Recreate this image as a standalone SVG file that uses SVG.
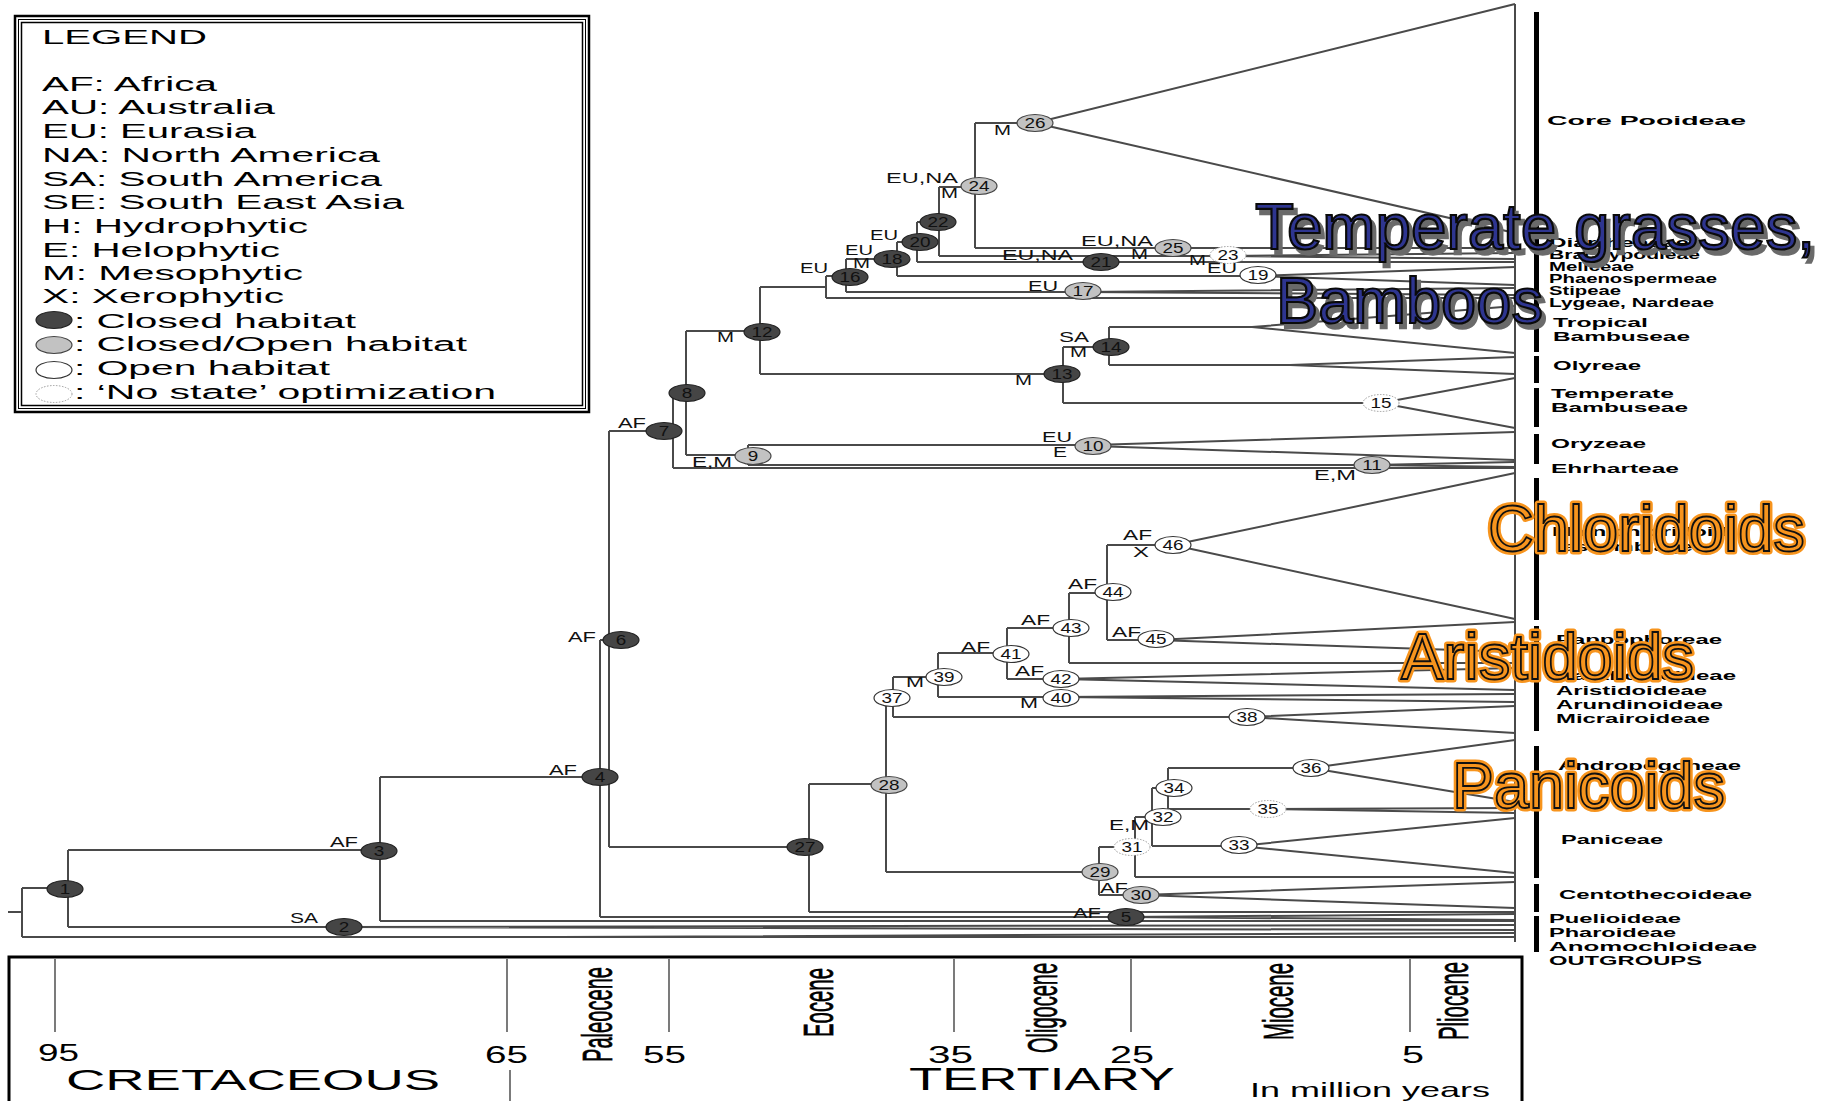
<svg xmlns="http://www.w3.org/2000/svg" width="1830" height="1101" viewBox="0 0 1830 1101">
<defs>
<style>
text{font-family:"Liberation Sans",Arial,sans-serif;}
.br{fill:none;stroke:#4a4a4a;stroke-width:2;}
.d{fill:#454545;stroke:#222;stroke-width:1.2;}
.g{fill:#c2c2c2;stroke:#444;stroke-width:1.2;}
.w{fill:#fff;stroke:#333;stroke-width:1.2;}
.n{fill:#fff;stroke:#999;stroke-width:1;stroke-dasharray:1.5 1.5;}
.num{font-size:14px;text-anchor:middle;fill:#111;}
.st{font-size:14px;fill:#111;}
.tx{font-size:12px;font-weight:bold;fill:#000;}
.lg{font-size:20px;fill:#000;}
.bar{fill:#000;}
.ax{font-size:24px;fill:#000;}
.tick{stroke:#333;stroke-width:1.3;}
.ep{font-size:24px;fill:#000;stroke:#000;stroke-width:0.4;}
.bigN{font-size:64px;fill:#2e3590;stroke:#0a0a0a;stroke-width:2.2;}
.bigS{font-size:64px;fill:#6a6a6a;stroke:#6a6a6a;stroke-width:2.5;}
.bigO1{font-size:64px;fill:#f7941d;stroke:#f7941d;stroke-width:7;stroke-linejoin:round;}
.bigO2{font-size:64px;fill:#f7941d;stroke:#111;stroke-width:1.8;}
</style>
</defs>
<rect width="1830" height="1101" fill="#fff"/>

<g id="legend">
<rect x="15" y="16" width="574" height="396" fill="none" stroke="#000" stroke-width="2.5"/>
<rect x="18.5" y="19.5" width="567" height="389" fill="none" stroke="#000" stroke-width="1"/>
<rect x="21.5" y="22.5" width="561" height="383" fill="none" stroke="#000" stroke-width="1.5"/>
<text class="lg" x="42" y="44" textLength="165" lengthAdjust="spacingAndGlyphs">LEGEND</text>
<text class="lg" x="42" y="91" textLength="175" lengthAdjust="spacingAndGlyphs">AF: Africa</text>
<text class="lg" x="42" y="114" textLength="233" lengthAdjust="spacingAndGlyphs">AU: Australia</text>
<text class="lg" x="42" y="138" textLength="214" lengthAdjust="spacingAndGlyphs">EU: Eurasia</text>
<text class="lg" x="42" y="162" textLength="338" lengthAdjust="spacingAndGlyphs">NA: North America</text>
<text class="lg" x="42" y="186" textLength="340" lengthAdjust="spacingAndGlyphs">SA: South America</text>
<text class="lg" x="42" y="209" textLength="362" lengthAdjust="spacingAndGlyphs">SE: South East Asia</text>
<text class="lg" x="42" y="233" textLength="266" lengthAdjust="spacingAndGlyphs">H: Hydrophytic</text>
<text class="lg" x="42" y="257" textLength="238" lengthAdjust="spacingAndGlyphs">E: Helophytic</text>
<text class="lg" x="42" y="280" textLength="261" lengthAdjust="spacingAndGlyphs">M: Mesophytic</text>
<text class="lg" x="42" y="303" textLength="242" lengthAdjust="spacingAndGlyphs">X: Xerophytic</text>
<ellipse class="d" cx="54" cy="320" rx="18" ry="8.5"/>
<text class="lg" x="74" y="328" textLength="282" lengthAdjust="spacingAndGlyphs">: Closed habitat</text>
<ellipse class="g" cx="54" cy="345" rx="18" ry="8.5"/>
<text class="lg" x="74" y="351" textLength="393" lengthAdjust="spacingAndGlyphs">: Closed/Open habitat</text>
<ellipse class="w" cx="54" cy="370" rx="18" ry="8.5"/>
<text class="lg" x="74" y="375" textLength="256" lengthAdjust="spacingAndGlyphs">: Open habitat</text>
<ellipse class="n" cx="54" cy="394" rx="18" ry="8.5"/>
<text class="lg" x="74" y="399" textLength="422" lengthAdjust="spacingAndGlyphs">: ‘No state’ optimization</text>
</g>

<g id="connectors" class="br">
<path d="M8 912H22M22 888V937M22 888H68M22 937H1515M560 937L1515 933"/>
<path d="M68 850V927M68 850H380M68 927H344L1515 925M344 927L1515 930"/>
<path d="M380 777V921M380 777H600M380 921H1515"/>
<path d="M600 640V917M600 640H609M600 917H1126L1515 914M1126 917L1515 920"/>
<path d="M609 431V847M609 431H673M609 847H809"/>
<path d="M673 392V468M673 392H686M673 468H1515"/>
<path d="M686 331V455M686 331H760M686 455H748"/>
<path d="M748 445V465M748 445H1093L1515 432M1093 446L1515 460M748 465H1372L1515 462M1372 465L1515 467"/>
<path d="M760 287V374M760 287H826M760 374H1063"/>
<path d="M826 276V298M826 276H846M826 298H1515"/>
<path d="M846 259V292M846 259H897M846 292H1083L1515 288M1083 292L1515 295"/>
<path d="M897 242V276M897 242H917M897 276H1258L1515 267M1258 276L1515 285"/>
<path d="M917 222V262M917 222H939M917 262H1515"/>
<path d="M939 187V256M939 187H975M939 256H1228L1515 253M1228 256L1515 259"/>
<path d="M975 123V248M975 123H1035L1515 4M1035 123L1515 233M975 248H1515"/>
<path d="M1063 347V403M1063 347H1109M1063 403H1381L1515 378M1381 403L1515 428"/>
<path d="M1109 327V365M1109 327H1252L1515 306M1252 327L1515 353M1109 365H1290L1515 357M1290 365L1515 374"/>
<path d="M809 784V912M809 784H886M809 912H1515"/>
<path d="M886 698V872M886 698H893M886 872H1099"/>
<path d="M893 677V717M893 677H938M893 717H1247L1515 706M1247 717L1515 733"/>
<path d="M938 653V697M938 653H1007M938 697H1061L1515 694M1061 697L1515 702"/>
<path d="M1007 628V679M1007 628H1069M1007 679H1061L1515 668M1061 679L1515 690"/>
<path d="M1069 593V663M1069 593H1107M1069 663H1515"/>
<path d="M1107 545V640M1107 545H1173L1515 473M1173 545L1515 619M1107 640H1156L1515 622M1156 640L1515 652"/>
<path d="M1099 847V895M1099 847H1135M1099 895H1141L1515 882M1141 895L1515 908"/>
<path d="M1135 817V877M1135 817H1152M1135 877H1515"/>
<path d="M1152 788V846M1152 788H1168M1152 846H1239L1515 818M1239 846L1515 873"/>
<path d="M1168 768V809M1168 768H1311L1515 740M1311 768L1515 802M1168 809H1268L1515 808M1268 809L1515 813"/>
<path d="M1515 4V942"/>
</g>

<g id="node-1"><ellipse class="d" cx="65" cy="889" rx="18" ry="8.5"/><text class="num" transform="translate(65 894) scale(1.35 1)">1</text></g>
<g id="node-2"><ellipse class="d" cx="344" cy="927" rx="18" ry="8.5"/><text class="num" transform="translate(344 932) scale(1.35 1)">2</text><text class="st" x="290" y="923" textLength="28" lengthAdjust="spacingAndGlyphs">SA</text></g>
<g id="node-3"><ellipse class="d" cx="379" cy="851" rx="18" ry="8.5"/><text class="num" transform="translate(379 856) scale(1.35 1)">3</text><text class="st" x="330" y="847" textLength="28" lengthAdjust="spacingAndGlyphs">AF</text></g>
<g id="node-4"><ellipse class="d" cx="600" cy="777" rx="18" ry="8.5"/><text class="num" transform="translate(600 782) scale(1.35 1)">4</text><text class="st" x="549" y="775" textLength="28" lengthAdjust="spacingAndGlyphs">AF</text></g>
<g id="node-5"><ellipse class="d" cx="1126" cy="917" rx="18" ry="8.5"/><text class="num" transform="translate(1126 922) scale(1.35 1)">5</text><text class="st" x="1073" y="918" textLength="28" lengthAdjust="spacingAndGlyphs">AF</text></g>
<g id="node-6"><ellipse class="d" cx="621" cy="640" rx="18" ry="8.5"/><text class="num" transform="translate(621 645) scale(1.35 1)">6</text><text class="st" x="568" y="642" textLength="28" lengthAdjust="spacingAndGlyphs">AF</text></g>
<g id="node-7"><ellipse class="d" cx="664" cy="431" rx="18" ry="8.5"/><text class="num" transform="translate(664 436) scale(1.35 1)">7</text><text class="st" x="618" y="428" textLength="28" lengthAdjust="spacingAndGlyphs">AF</text></g>
<g id="node-8"><ellipse class="d" cx="687" cy="393" rx="18" ry="8.5"/><text class="num" transform="translate(687 398) scale(1.35 1)">8</text></g>
<g id="node-9"><ellipse class="g" cx="753" cy="456" rx="18" ry="8.5"/><text class="num" transform="translate(753 461) scale(1.35 1)">9</text><text class="st" x="692" y="467" textLength="40" lengthAdjust="spacingAndGlyphs">E,M</text></g>
<g id="node-10"><ellipse class="g" cx="1093" cy="446" rx="18" ry="8.5"/><text class="num" transform="translate(1093 451) scale(1.35 1)">10</text><text class="st" x="1042" y="442" textLength="30" lengthAdjust="spacingAndGlyphs">EU</text><text class="st" x="1053" y="457" textLength="14" lengthAdjust="spacingAndGlyphs">E</text></g>
<g id="node-11"><ellipse class="g" cx="1372" cy="465" rx="18" ry="8.5"/><text class="num" transform="translate(1372 470) scale(1.35 1)">11</text><text class="st" x="1314" y="480" textLength="42" lengthAdjust="spacingAndGlyphs">E,M</text></g>
<g id="node-12"><ellipse class="d" cx="762" cy="332" rx="18" ry="8.5"/><text class="num" transform="translate(762 337) scale(1.35 1)">12</text><text class="st" x="717" y="342" textLength="17" lengthAdjust="spacingAndGlyphs">M</text></g>
<g id="node-13"><ellipse class="d" cx="1062" cy="374" rx="18" ry="8.5"/><text class="num" transform="translate(1062 379) scale(1.35 1)">13</text><text class="st" x="1015" y="385" textLength="17" lengthAdjust="spacingAndGlyphs">M</text></g>
<g id="node-14"><ellipse class="d" cx="1111" cy="347" rx="18" ry="8.5"/><text class="num" transform="translate(1111 352) scale(1.35 1)">14</text><text class="st" x="1059" y="342" textLength="30" lengthAdjust="spacingAndGlyphs">SA</text><text class="st" x="1070" y="357" textLength="17" lengthAdjust="spacingAndGlyphs">M</text></g>
<g id="node-15"><ellipse class="n" cx="1381" cy="403" rx="18" ry="8.5"/><text class="num" transform="translate(1381 408) scale(1.35 1)">15</text></g>
<g id="node-16"><ellipse class="d" cx="850" cy="277" rx="18" ry="8.5"/><text class="num" transform="translate(850 282) scale(1.35 1)">16</text><text class="st" x="800" y="273" textLength="28" lengthAdjust="spacingAndGlyphs">EU</text></g>
<g id="node-17"><ellipse class="g" cx="1083" cy="291" rx="18" ry="8.5"/><text class="num" transform="translate(1083 296) scale(1.35 1)">17</text><text class="st" x="1028" y="291" textLength="30" lengthAdjust="spacingAndGlyphs">EU</text></g>
<g id="node-18"><ellipse class="d" cx="892" cy="259" rx="18" ry="8.5"/><text class="num" transform="translate(892 264) scale(1.35 1)">18</text><text class="st" x="845" y="255" textLength="28" lengthAdjust="spacingAndGlyphs">EU</text><text class="st" x="853" y="268" textLength="17" lengthAdjust="spacingAndGlyphs">M</text></g>
<g id="node-19"><ellipse class="w" cx="1258" cy="275" rx="18" ry="8.5"/><text class="num" transform="translate(1258 280) scale(1.35 1)">19</text><text class="st" x="1207" y="273" textLength="30" lengthAdjust="spacingAndGlyphs">EU</text></g>
<g id="node-20"><ellipse class="d" cx="920" cy="242" rx="18" ry="8.5"/><text class="num" transform="translate(920 247) scale(1.35 1)">20</text><text class="st" x="870" y="240" textLength="28" lengthAdjust="spacingAndGlyphs">EU</text></g>
<g id="node-21"><ellipse class="d" cx="1101" cy="262" rx="18" ry="8.5"/><text class="num" transform="translate(1101 267) scale(1.35 1)">21</text><text class="st" x="1002" y="260" textLength="71" lengthAdjust="spacingAndGlyphs">EU,NA</text></g>
<g id="node-22"><ellipse class="d" cx="938" cy="222" rx="18" ry="8.5"/><text class="num" transform="translate(938 227) scale(1.35 1)">22</text></g>
<g id="node-23"><ellipse class="n" cx="1228" cy="255" rx="18" ry="8.5"/><text class="num" transform="translate(1228 260) scale(1.35 1)">23</text><text class="st" x="1189" y="265" textLength="17" lengthAdjust="spacingAndGlyphs">M</text></g>
<g id="node-24"><ellipse class="g" cx="979" cy="186" rx="18" ry="8.5"/><text class="num" transform="translate(979 191) scale(1.35 1)">24</text><text class="st" x="886" y="183" textLength="72" lengthAdjust="spacingAndGlyphs">EU,NA</text><text class="st" x="941" y="198" textLength="17" lengthAdjust="spacingAndGlyphs">M</text></g>
<g id="node-25"><ellipse class="g" cx="1173" cy="248" rx="18" ry="8.5"/><text class="num" transform="translate(1173 253) scale(1.35 1)">25</text><text class="st" x="1081" y="246" textLength="72" lengthAdjust="spacingAndGlyphs">EU,NA</text><text class="st" x="1131" y="259" textLength="17" lengthAdjust="spacingAndGlyphs">M</text></g>
<g id="node-26"><ellipse class="g" cx="1035" cy="123" rx="18" ry="8.5"/><text class="num" transform="translate(1035 128) scale(1.35 1)">26</text><text class="st" x="994" y="135" textLength="17" lengthAdjust="spacingAndGlyphs">M</text></g>
<g id="node-27"><ellipse class="d" cx="805" cy="847" rx="18" ry="8.5"/><text class="num" transform="translate(805 852) scale(1.35 1)">27</text></g>
<g id="node-28"><ellipse class="g" cx="889" cy="785" rx="18" ry="8.5"/><text class="num" transform="translate(889 790) scale(1.35 1)">28</text></g>
<g id="node-29"><ellipse class="g" cx="1100" cy="872" rx="18" ry="8.5"/><text class="num" transform="translate(1100 877) scale(1.35 1)">29</text></g>
<g id="node-30"><ellipse class="g" cx="1141" cy="895" rx="18" ry="8.5"/><text class="num" transform="translate(1141 900) scale(1.35 1)">30</text><text class="st" x="1100" y="893" textLength="28" lengthAdjust="spacingAndGlyphs">AF</text></g>
<g id="node-31"><ellipse class="n" cx="1132" cy="847" rx="18" ry="8.5"/><text class="num" transform="translate(1132 852) scale(1.35 1)">31</text></g>
<g id="node-32"><ellipse class="w" cx="1163" cy="817" rx="18" ry="8.5"/><text class="num" transform="translate(1163 822) scale(1.35 1)">32</text><text class="st" x="1109" y="830" textLength="40" lengthAdjust="spacingAndGlyphs">E,M</text></g>
<g id="node-33"><ellipse class="w" cx="1239" cy="845" rx="18" ry="8.5"/><text class="num" transform="translate(1239 850) scale(1.35 1)">33</text></g>
<g id="node-34"><ellipse class="w" cx="1174" cy="788" rx="18" ry="8.5"/><text class="num" transform="translate(1174 793) scale(1.35 1)">34</text></g>
<g id="node-35"><ellipse class="n" cx="1268" cy="809" rx="18" ry="8.5"/><text class="num" transform="translate(1268 814) scale(1.35 1)">35</text></g>
<g id="node-36"><ellipse class="w" cx="1311" cy="768" rx="18" ry="8.5"/><text class="num" transform="translate(1311 773) scale(1.35 1)">36</text></g>
<g id="node-37"><ellipse class="w" cx="892" cy="698" rx="18" ry="8.5"/><text class="num" transform="translate(892 703) scale(1.35 1)">37</text></g>
<g id="node-38"><ellipse class="w" cx="1247" cy="717" rx="18" ry="8.5"/><text class="num" transform="translate(1247 722) scale(1.35 1)">38</text></g>
<g id="node-39"><ellipse class="w" cx="944" cy="677" rx="18" ry="8.5"/><text class="num" transform="translate(944 682) scale(1.35 1)">39</text><text class="st" x="906" y="687" textLength="18" lengthAdjust="spacingAndGlyphs">M</text></g>
<g id="node-40"><ellipse class="w" cx="1061" cy="698" rx="18" ry="8.5"/><text class="num" transform="translate(1061 703) scale(1.35 1)">40</text><text class="st" x="1020" y="708" textLength="18" lengthAdjust="spacingAndGlyphs">M</text></g>
<g id="node-41"><ellipse class="w" cx="1011" cy="654" rx="18" ry="8.5"/><text class="num" transform="translate(1011 659) scale(1.35 1)">41</text><text class="st" x="961" y="652" textLength="29" lengthAdjust="spacingAndGlyphs">AF</text></g>
<g id="node-42"><ellipse class="w" cx="1061" cy="679" rx="18" ry="8.5"/><text class="num" transform="translate(1061 684) scale(1.35 1)">42</text><text class="st" x="1015" y="676" textLength="29" lengthAdjust="spacingAndGlyphs">AF</text></g>
<g id="node-43"><ellipse class="w" cx="1071" cy="628" rx="18" ry="8.5"/><text class="num" transform="translate(1071 633) scale(1.35 1)">43</text><text class="st" x="1021" y="625" textLength="29" lengthAdjust="spacingAndGlyphs">AF</text></g>
<g id="node-44"><ellipse class="w" cx="1113" cy="592" rx="18" ry="8.5"/><text class="num" transform="translate(1113 597) scale(1.35 1)">44</text><text class="st" x="1068" y="589" textLength="29" lengthAdjust="spacingAndGlyphs">AF</text></g>
<g id="node-45"><ellipse class="w" cx="1156" cy="639" rx="18" ry="8.5"/><text class="num" transform="translate(1156 644) scale(1.35 1)">45</text><text class="st" x="1112" y="637" textLength="29" lengthAdjust="spacingAndGlyphs">AF</text></g>
<g id="node-46"><ellipse class="w" cx="1173" cy="545" rx="18" ry="8.5"/><text class="num" transform="translate(1173 550) scale(1.35 1)">46</text><text class="st" x="1123" y="540" textLength="29" lengthAdjust="spacingAndGlyphs">AF</text><text class="st" x="1133" y="557" textLength="16" lengthAdjust="spacingAndGlyphs">X</text></g>

<g id="clade-bars">
<rect class="bar" x="1534" y="12" width="5" height="340"/>
<rect class="bar" x="1534" y="356" width="5" height="27"/>
<rect class="bar" x="1534" y="388" width="5" height="39"/>
<rect class="bar" x="1534" y="434" width="5" height="30"/>
<rect class="bar" x="1534" y="478" width="5" height="142"/>
<rect class="bar" x="1534" y="626" width="5" height="105"/>
<rect class="bar" x="1534" y="746" width="5" height="132"/>
<rect class="bar" x="1534" y="884" width="5" height="28"/>
<rect class="bar" x="1534" y="916" width="5" height="36"/>
</g>

<g id="taxa">
<text class="tx" x="1547" y="125" textLength="199" lengthAdjust="spacingAndGlyphs">Core Pooideae</text>
<text class="tx" x="1549" y="247" textLength="140" lengthAdjust="spacingAndGlyphs">Diarrheneae</text>
<text class="tx" x="1549" y="259" textLength="151" lengthAdjust="spacingAndGlyphs">Brachypodieae</text>
<text class="tx" x="1549" y="271" textLength="85" lengthAdjust="spacingAndGlyphs">Meliceae</text>
<text class="tx" x="1549" y="283" textLength="168" lengthAdjust="spacingAndGlyphs">Phaenospermeae</text>
<text class="tx" x="1549" y="295" textLength="72" lengthAdjust="spacingAndGlyphs">Stipeae</text>
<text class="tx" x="1549" y="307" textLength="165" lengthAdjust="spacingAndGlyphs">Lygeae, Nardeae</text>
<text class="tx" x="1553" y="327" textLength="95" lengthAdjust="spacingAndGlyphs">Tropical</text>
<text class="tx" x="1553" y="341" textLength="137" lengthAdjust="spacingAndGlyphs">Bambuseae</text>
<text class="tx" x="1553" y="370" textLength="88" lengthAdjust="spacingAndGlyphs">Olyreae</text>
<text class="tx" x="1551" y="398" textLength="123" lengthAdjust="spacingAndGlyphs">Temperate</text>
<text class="tx" x="1551" y="412" textLength="137" lengthAdjust="spacingAndGlyphs">Bambuseae</text>
<text class="tx" x="1551" y="448" textLength="95" lengthAdjust="spacingAndGlyphs">Oryzeae</text>
<text class="tx" x="1551" y="473" textLength="128" lengthAdjust="spacingAndGlyphs">Ehrharteae</text>
<text class="tx" x="1552" y="536" textLength="176" lengthAdjust="spacingAndGlyphs">Main chloridoid</text>
<text class="tx" x="1563" y="551" textLength="130" lengthAdjust="spacingAndGlyphs">assemblage</text>
<text class="tx" x="1556" y="644" textLength="166" lengthAdjust="spacingAndGlyphs">Pappophoreae</text>
<text class="tx" x="1556" y="680" textLength="180" lengthAdjust="spacingAndGlyphs">Danthonioideae</text>
<text class="tx" x="1556" y="695" textLength="151" lengthAdjust="spacingAndGlyphs">Aristidoideae</text>
<text class="tx" x="1556" y="709" textLength="167" lengthAdjust="spacingAndGlyphs">Arundinoideae</text>
<text class="tx" x="1556" y="723" textLength="154" lengthAdjust="spacingAndGlyphs">Micrairoideae</text>
<text class="tx" x="1558" y="770" textLength="183" lengthAdjust="spacingAndGlyphs">Andropogoneae</text>
<text class="tx" x="1561" y="844" textLength="102" lengthAdjust="spacingAndGlyphs">Paniceae</text>
<text class="tx" x="1559" y="899" textLength="193" lengthAdjust="spacingAndGlyphs">Centothecoideae</text>
<text class="tx" x="1549" y="923" textLength="132" lengthAdjust="spacingAndGlyphs">Puelioideae</text>
<text class="tx" x="1549" y="937" textLength="127" lengthAdjust="spacingAndGlyphs">Pharoideae</text>
<text class="tx" x="1549" y="951" textLength="208" lengthAdjust="spacingAndGlyphs">Anomochloideae</text>
<text class="tx" x="1549" y="965" textLength="153" lengthAdjust="spacingAndGlyphs">OUTGROUPS</text>
</g>

<g id="time-axis">
<rect x="9" y="957" width="1513" height="170" fill="none" stroke="#000" stroke-width="3"/>
<line class="tick" x1="55" y1="959" x2="55" y2="1032"/>
<line class="tick" x1="507" y1="959" x2="507" y2="1032"/>
<line class="tick" x1="510" y1="1070" x2="510" y2="1101"/>
<line class="tick" x1="669" y1="959" x2="669" y2="1032"/>
<line class="tick" x1="954" y1="959" x2="954" y2="1032"/>
<line class="tick" x1="1131" y1="959" x2="1131" y2="1032"/>
<line class="tick" x1="1410" y1="959" x2="1410" y2="1032"/>
<text class="ax" x="38" y="1061" textLength="41" lengthAdjust="spacingAndGlyphs">95</text>
<text class="ax" x="485" y="1063" textLength="43" lengthAdjust="spacingAndGlyphs">65</text>
<text class="ax" x="643" y="1063" textLength="43" lengthAdjust="spacingAndGlyphs">55</text>
<text class="ax" x="928" y="1063" textLength="45" lengthAdjust="spacingAndGlyphs">35</text>
<text class="ax" x="1110" y="1063" textLength="44" lengthAdjust="spacingAndGlyphs">25</text>
<text class="ax" x="1402" y="1063" textLength="22" lengthAdjust="spacingAndGlyphs">5</text>
<text x="66" y="1090" font-size="29" textLength="374" lengthAdjust="spacingAndGlyphs">CRETACEOUS</text>
<text x="909" y="1090" font-size="31" textLength="266" lengthAdjust="spacingAndGlyphs">TERTIARY</text>
<text x="1250" y="1097" font-size="21" textLength="240" lengthAdjust="spacingAndGlyphs">In million years</text>
<text class="ep" transform="translate(612 1062) rotate(-90) scale(1 1.8)" textLength="95" lengthAdjust="spacingAndGlyphs">Paleocene</text>
<text class="ep" transform="translate(833 1037) rotate(-90) scale(1 1.8)" textLength="69" lengthAdjust="spacingAndGlyphs">Eocene</text>
<text class="ep" transform="translate(1057 1053) rotate(-90) scale(1 1.8)" textLength="90" lengthAdjust="spacingAndGlyphs">Oligocene</text>
<text class="ep" transform="translate(1293 1040) rotate(-90) scale(1 1.8)" textLength="77" lengthAdjust="spacingAndGlyphs">Miocene</text>
<text class="ep" transform="translate(1468 1040) rotate(-90) scale(1 1.8)" textLength="78" lengthAdjust="spacingAndGlyphs">Pliocene</text>
</g>

<g id="overlay-labels">
<text class="bigS" x="1259" y="254" textLength="560" lengthAdjust="spacingAndGlyphs">Temperate grasses,</text>
<text class="bigN" x="1255" y="249" textLength="560" lengthAdjust="spacingAndGlyphs">Temperate grasses,</text>
<text class="bigS" x="1280" y="328" textLength="267" lengthAdjust="spacingAndGlyphs">Bamboos</text>
<text class="bigN" x="1276" y="323" textLength="267" lengthAdjust="spacingAndGlyphs">Bamboos</text>
<text class="bigO1" x="1488" y="551" textLength="317" lengthAdjust="spacingAndGlyphs">Chloridoids</text>
<text class="bigO2" x="1488" y="551" textLength="317" lengthAdjust="spacingAndGlyphs">Chloridoids</text>
<text class="bigO1" x="1401" y="679" textLength="293" lengthAdjust="spacingAndGlyphs">Aristidoids</text>
<text class="bigO2" x="1401" y="679" textLength="293" lengthAdjust="spacingAndGlyphs">Aristidoids</text>
<text class="bigO1" x="1452" y="808" textLength="273" lengthAdjust="spacingAndGlyphs">Panicoids</text>
<text class="bigO2" x="1452" y="808" textLength="273" lengthAdjust="spacingAndGlyphs">Panicoids</text>
</g>
</svg>
